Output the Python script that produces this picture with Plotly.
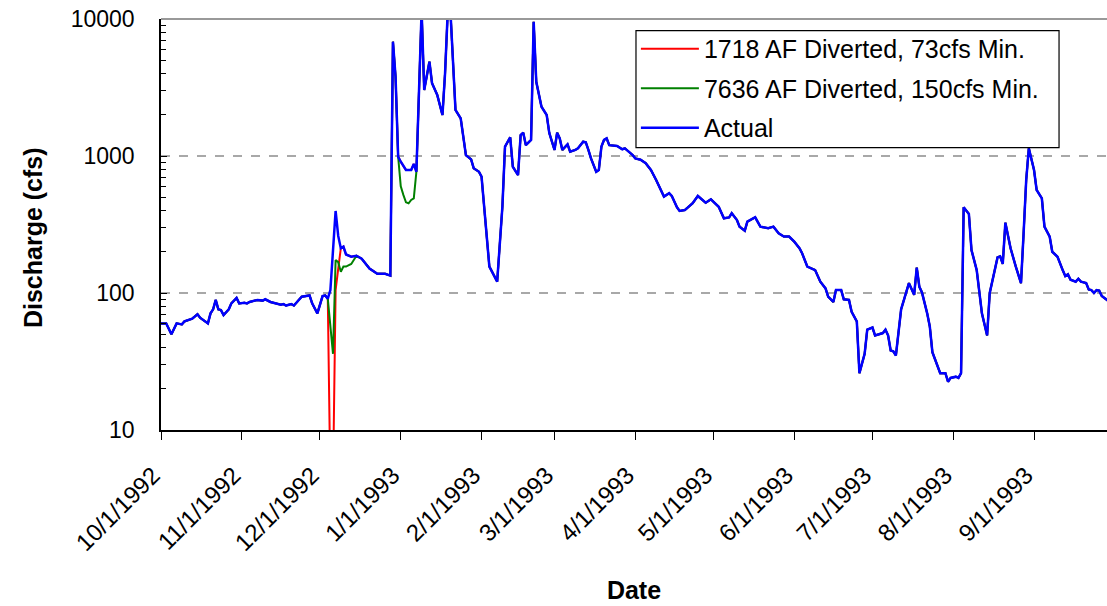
import pandas as pd
import plotly.graph_objects as go

# days since 10/1/1992 and daily discharge (cfs)
days = [0, 2, 4, 6, 8, 9, 12, 14, 15, 18, 19, 20, 21, 22, 23, 24, 26, 27, 29, 30,
        32, 33, 34, 37, 39, 40, 42, 44, 46, 47, 48, 50, 51, 54, 57, 58, 60, 62, 63, 64,
        65, 67, 68, 69, 70, 71, 73, 75, 77, 80, 81, 83, 86, 88, 89, 90, 91, 92, 94, 96,
        97, 98, 100, 101, 103, 104, 106, 108, 109, 110, 111, 113, 115, 117, 119, 120, 122, 123, 126, 127,
        129, 131, 132, 134, 135, 137, 138, 139, 140, 142, 143, 144, 146, 148, 149, 151, 152, 153, 154, 156,
        157, 159, 160, 162, 163, 164, 165, 167, 168, 169, 170, 171, 172, 175, 177, 178, 180, 181, 182, 184,
        186, 188, 190, 192, 193, 195, 196, 198, 199, 201, 203, 204, 206, 207, 209, 211, 213, 214, 216, 218,
        219, 221, 222, 224, 225, 228, 230, 232, 233, 235, 237, 239, 241, 243, 245, 246, 247, 248, 251, 252,
        253, 255, 256, 258, 259, 261, 262, 264, 265, 267, 268, 270, 271, 273, 274, 277, 278, 279, 280, 281,
        282, 284, 285, 287, 289, 290, 291, 292, 294, 295, 296, 299, 301, 302, 303, 305, 306, 307, 308, 310,
        311, 313, 315, 317, 318, 321, 322, 323, 324, 326, 328, 330, 331, 332, 333, 335, 336, 338, 339, 341,
        342, 344, 346, 347, 348, 349, 351, 352, 353, 355, 356, 357, 358, 359, 360, 361, 363, 364]
actual = [60, 60, 50, 60, 59, 62, 65, 70, 66, 60, 71, 76, 89, 76, 75, 69, 76, 84, 92, 84,
          85, 84, 86, 89, 88, 90, 86, 84, 82, 83, 81, 83, 81, 94, 96, 84, 71, 95, 96, 91,
          105, 397, 261, 212, 218, 191, 184, 187, 178, 151, 147, 138, 138, 134, 6830, 3790, 988, 908, 790, 790,
          875, 767, 11500, 3030, 4880, 3400, 2790, 1990, 4020, 11000, 12000, 2170, 1880, 1015, 945, 813, 767, 706, 156, 143,
          121, 426, 1170, 1370, 835, 726, 1420, 1480, 1200, 1310, 9560, 3480, 2290, 1990, 1470, 1107, 1480, 1345, 1107, 1216,
          1074, 1107, 1138, 1273, 1260, 1107, 961, 767, 790, 1170, 1310, 1345, 1200, 1185, 1120, 1138, 1057, 1015, 961, 940,
          885, 790, 668, 550, 505, 535, 511, 422, 397, 403, 439, 452, 511, 493, 456, 483, 439, 426, 351, 356,
          382, 341, 305, 285, 332, 357, 305, 302, 297, 305, 273, 258, 258, 237, 212, 195, 174, 156, 147, 131,
          121, 108, 94, 86, 105, 105, 90, 89, 73, 62, 26, 36, 54, 56, 49, 51, 54, 49, 38, 37.5,
          35, 76, 89, 118, 97, 153, 111, 101, 71, 57, 37, 26, 26, 22.5, 24, 24.5, 24, 26, 422, 378,
          206, 147, 71, 49, 100, 182, 185, 163, 326, 212, 156, 118, 273, 668, 1138, 790, 565, 491, 305, 258,
          200, 184, 147, 133, 137, 125, 121, 127, 121, 118, 106, 105, 100, 105, 104, 95, 89, 86]

# days where the diverted scenarios differ from actual
div73_days = [65, 66, 67, 68]
div73_vals = [4, 4, 105, 150]
div150_days = [65, 66, 67, 68, 69, 70, 71, 73, 92, 93, 94, 95, 96, 97]
div150_vals = [57, 36, 174, 168, 143, 156, 156, 163, 600, 520, 459, 452, 478, 491]

month_ticks = ["1992-10-01", "1992-11-01", "1992-12-01", "1993-01-01", "1993-02-01", "1993-03-01",
               "1993-04-01", "1993-05-01", "1993-06-01", "1993-07-01", "1993-08-01", "1993-09-01"]

start = pd.Timestamp("1992-10-01")
base = pd.Series(actual, index=days, dtype=float)


def scenario(d, v):
    s = pd.concat([base.drop(d, errors="ignore"), pd.Series(v, index=d, dtype=float)])
    return s.sort_index()


def to_dates(idx):
    return start + pd.to_timedelta(idx, unit="D")


s73 = scenario(div73_days, div73_vals)
s150 = scenario(div150_days, div150_vals)

fig = go.Figure()
fig.add_trace(go.Scatter(x=to_dates(s73.index), y=s73.values, mode="lines",
                         name="1718 AF Diverted, 73cfs Min.", legendgroup="a",
                         line=dict(color="#ff0000", width=2)))
fig.add_trace(go.Scatter(x=to_dates(s150.index), y=s150.values, mode="lines",
                         name="7636 AF Diverted, 150cfs Min.", legendgroup="b",
                         line=dict(color="#008000", width=2)))
fig.add_trace(go.Scatter(x=to_dates(base.index), y=base.values, mode="lines",
                         name="Actual", legendgroup="c",
                         line=dict(color="#0000ff", width=2.5)))

fig.update_xaxes(
    type="date", range=["1992-10-01", "1993-09-29"],
    tickvals=month_ticks, tickformat="%-m/%-d/%Y", tickangle=-45,
    ticks="outside", ticklen=8, tickcolor="black",
    tickfont=dict(size=24, color="black"), ticklabelstandoff=12, ticklabelshift=-8,
    showline=True, linecolor="black", linewidth=1.5, showgrid=False, zeroline=False,
    title=dict(text="Date", font=dict(size=25, weight="bold", color="black"), standoff=26),
)
fig.update_yaxes(
    type="log", range=[1, 4],
    tickvals=[10, 100, 1000, 10000], ticktext=["10", "100", "1000", "10000"],
    ticks="inside", ticklen=6, tickcolor="black", ticklabeloverflow="allow",
    minor=dict(ticks="inside", ticklen=5, tickcolor="black", dtick="D1", showgrid=False),
    tickfont=dict(size=23, color="black"), ticklabelstandoff=20,
    showline=True, linecolor="black", linewidth=1.5,
    showgrid=True, gridcolor="#a8a8a8", griddash="dash", gridwidth=1.5, zeroline=False,
)
# y title placed as annotation (sits a little below the axis middle in the original)
fig.add_annotation(text="Discharge (cfs)", xref="paper", yref="paper", x=-0.1353, y=0.467,
                   xanchor="center", yanchor="middle", textangle=-90, showarrow=False,
                   font=dict(size=25, weight="bold", color="black"))
# solid grey line along the top of the plot
fig.add_shape(type="line", xref="paper", yref="paper", x0=0, x1=1, y0=1, y1=1,
              line=dict(color="#999999", width=2))
# legend frame
fig.add_shape(type="rect", xref="paper", yref="paper", x0=0.5021, x1=0.9493, y0=0.687, y1=0.9715,
              line=dict(color="black", width=1.2), fillcolor="white", layer="above")

fig.update_layout(
    width=1107, height=606,
    margin=dict(l=161, r=0, t=19, b=176),
    plot_bgcolor="white", paper_bgcolor="white",
    font=dict(family="Liberation Sans, Arial, sans-serif", color="black"),
    legend=dict(x=0.502, y=0.983, xanchor="left", yanchor="top",
                bgcolor="rgba(0,0,0,0)", borderwidth=0,
                font=dict(size=25), itemwidth=58, tracegroupgap=4,
                traceorder="grouped"),
)

fig.write_html("out.html", config={"displayModeBar": False},
               post_script="document.body.style.margin='0';document.body.style.overflow='hidden';")
